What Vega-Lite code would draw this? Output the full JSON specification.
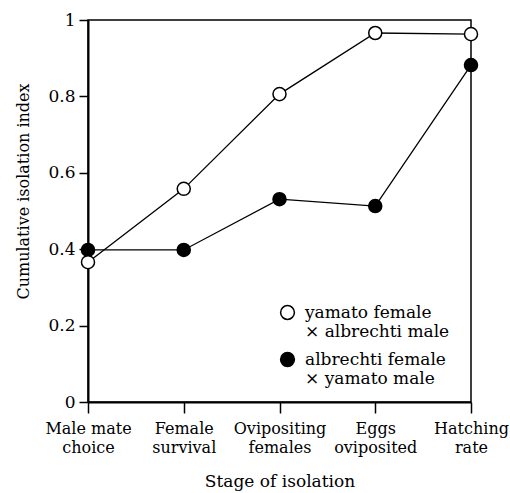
{
  "$schema": "https://vega.github.io/schema/vega-lite/v6.json",
  "width": 383,
  "height": 382,
  "autosize": "none",
  "padding": {"left": 88, "top": 20, "right": 39, "bottom": 91},
  "background": "white",
  "data": {
    "values": [
      {"stage": "Male mate choice", "cross": "albrechti", "value": 0.398},
      {"stage": "Female survival", "cross": "albrechti", "value": 0.398},
      {"stage": "Ovipositing females", "cross": "albrechti", "value": 0.531},
      {"stage": "Eggs oviposited", "cross": "albrechti", "value": 0.513},
      {"stage": "Hatching rate", "cross": "albrechti", "value": 0.882},
      {"stage": "Male mate choice", "cross": "yamato", "value": 0.366},
      {"stage": "Female survival", "cross": "yamato", "value": 0.558},
      {"stage": "Ovipositing females", "cross": "yamato", "value": 0.806},
      {"stage": "Eggs oviposited", "cross": "yamato", "value": 0.966},
      {"stage": "Hatching rate", "cross": "yamato", "value": 0.963}
    ]
  },
  "encoding": {
    "x": {
      "field": "stage",
      "type": "nominal",
      "sort": null,
      "scale": {"type": "point", "padding": 0, "domain": ["Male mate choice", "Female survival", "Ovipositing females", "Eggs oviposited", "Hatching rate"]},
      "axis": {
        "title": "Stage of isolation",
        "labelAngle": 0,
        "labelExpr": "datum.value == 'Male mate choice' ? ['Male mate', 'choice'] : datum.value == 'Female survival' ? ['Female', 'survival'] : datum.value == 'Ovipositing females' ? ['Ovipositing', 'females'] : datum.value == 'Eggs oviposited' ? ['Eggs', 'oviposited'] : ['Hatching', 'rate']",
        "tickSize": 11,
        "labelPadding": 7,
        "labelFontSize": 16,
        "labelLineHeight": 19,
        "titlePadding": 18
      }
    },
    "y": {
      "field": "value",
      "type": "quantitative",
      "scale": {"domain": [0, 1], "nice": false},
      "axis": {
        "title": "Cumulative isolation index",
        "values": [0, 0.2, 0.4, 0.6, 0.8, 1],
        "format": "~g",
        "tickSize": 9,
        "labelPadding": 4,
        "titleFontSize": 16,
        "titleX": -57,
        "titleY": 171,
        "titleBaseline": "bottom",
        "titleAlign": "center",
        "titleAngle": -90
      }
    }
  },
  "layer": [
    {
      "mark": {"type": "line", "color": "black", "strokeWidth": 1.3},
      "encoding": {"detail": {"field": "cross", "type": "nominal"}}
    },
    {
      "mark": {"type": "point", "filled": true, "shape": "circle", "size": 170, "stroke": "black", "strokeWidth": 1.5, "opacity": 1},
      "encoding": {
        "fill": {
          "field": "cross",
          "type": "nominal",
          "scale": {"domain": ["yamato", "albrechti"], "range": ["white", "black"]},
          "legend": {
            "title": null,
            "orient": "none",
            "legendX": 191,
            "legendY": 284,
            "padding": 0,
            "symbolType": "circle",
            "symbolSize": 190,
            "symbolStrokeColor": "black",
            "symbolStrokeWidth": 1.5,
            "labelFontSize": 17,
            "labelOffset": 9,
            "labelColor": "black",
            "labelLimit": 300,
            "rowPadding": 9,
            "labelExpr": "datum.value == 'yamato' ? ['yamato female', '\u00a0\u00a0\u00a0\u00a0× albrechti male'] : ['albrechti female', '\u00a0\u00a0\u00a0\u00a0× yamato male']",
            "encode": {"labels": {"update": {"lineHeight": {"value": 20}}}}
          }
        }
      }
    }
  ],
  "config": {
    "font": "DejaVu Serif",
    "legend": {"labelFont": "DejaVu Serif"},
    "view": {"stroke": "black", "strokeWidth": 1.5},
    "axis": {
      "grid": false,
      "labelFont": "DejaVu Serif",
      "titleFont": "DejaVu Serif",
      "domainColor": "black",
      "domainWidth": 2,
      "tickColor": "black",
      "tickWidth": 1.5,
      "labelColor": "black",
      "titleColor": "black",
      "labelFontSize": 17,
      "titleFontSize": 17,
      "titleFontWeight": "normal"
    }
  }
}
